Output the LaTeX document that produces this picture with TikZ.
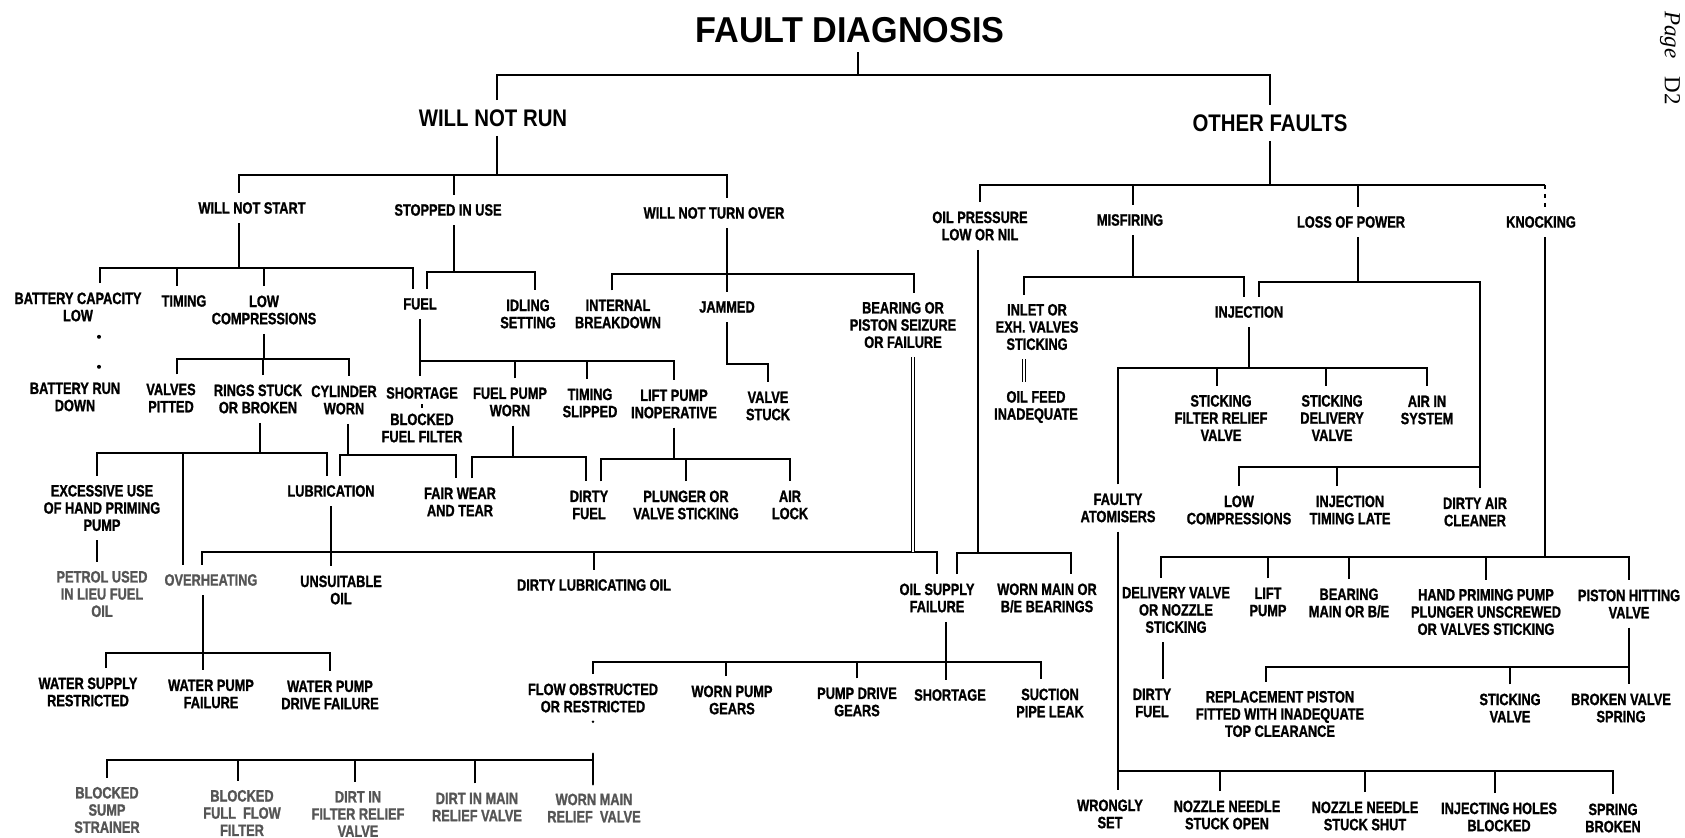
\documentclass[tikz,border=0pt]{standalone}
\usepackage{fontspec}
\setmainfont{Liberation Sans}
\newfontfamily\lblfont{Liberation Sans}[FakeStretch=0.78, FakeBold=1.2]
\newfontfamily\headfont{Liberation Sans}[FakeStretch=0.85]
\newfontfamily\titlefont{Liberation Sans}[FakeStretch=0.95]
\newfontfamily\pagefont{Liberation Serif}
\definecolor{faultgrey}{RGB}{85,85,85}
\usetikzlibrary{positioning}

\tikzset{
  cause/.style={font=\lblfont\bfseries\fontsize{8.2}{8.6}\selectfont, align=center, inner xsep=0pt, inner ysep=4pt},
  causegrey/.style={cause, text=faultgrey},
  group/.style={font=\headfont\bfseries\fontsize{12}{13}\selectfont, inner sep=4pt},
  dbl/.style={double, line width=0.6pt, double distance=1.1pt},
}

\begin{document}
\begin{tikzpicture}[x=0.5pt, y=-0.5pt, line width=1.4pt]
  \useasboundingbox (0,0) rectangle (1685,838);

  % headings
  \node[font=\titlefont\bfseries\fontsize{18}{20}\selectfont, inner sep=4pt] (title) at (850,30) {FAULT DIAGNOSIS};
  \node[rotate=-90, font=\pagefont\fontsize{11.5}{12}\selectfont, inner sep=0pt] (page) at (1670,58) {\textit{Page}\hspace{9pt}D2};
  \node[group] (wnr)    at (493,118)  {WILL NOT RUN};
  \node[group] (others) at (1270,123) {OTHER FAULTS};

  % second level
  \node[cause] (wns)      at (252,208)  {WILL NOT START};
  \node[cause] (stopped)  at (448,210)  {STOPPED IN USE};
  \node[cause] (turnover) at (714,213)  {WILL NOT TURN OVER};
  \node[cause] (oilpress) at (980,226)  {OIL PRESSURE\\LOW OR NIL};
  \node[cause] (misfire)  at (1130,220) {MISFIRING};
  \node[cause] (power)    at (1351,222) {LOSS OF POWER};
  \node[cause] (knock)    at (1541,222) {KNOCKING};

  % third level
  \node[cause] (batcap)    at (78,307)   {BATTERY CAPACITY\\LOW};
  \node[cause] (timing)    at (184,301)  {TIMING};
  \node[cause] (lowcomp)   at (264,310)  {LOW\\COMPRESSIONS};
  \node[cause] (fuel)      at (420,304)  {FUEL};
  \node[cause] (idling)    at (528,314)  {IDLING\\SETTING};
  \node[cause] (internal)  at (618,314)  {INTERNAL\\BREAKDOWN};
  \node[cause] (jammed)    at (727,307)  {JAMMED};
  \node[cause] (bearing)   at (903,325)  {BEARING OR\\PISTON SEIZURE\\OR FAILURE};
  \node[cause] (inlet)     at (1037,327) {INLET OR\\EXH. VALVES\\STICKING};
  \node[cause] (injection) at (1249,312) {INJECTION};

  % fourth level
  \node[cause] (batrun)      at (75,397)   {BATTERY RUN\\DOWN};
  \node[cause] (pitted)      at (171,398)  {VALVES\\PITTED};
  \node[cause] (rings)       at (258,399)  {RINGS STUCK\\OR BROKEN};
  \node[cause] (cylinder)    at (344,400)  {CYLINDER\\WORN};
  \node[cause, inner ysep=1pt] (shortage) at (422,393) {SHORTAGE};
  \node[cause, inner ysep=1pt] (blocked)  at (422,428) {BLOCKED\\FUEL FILTER};
  \node[cause] (pumpworn)    at (510,402)  {FUEL PUMP\\WORN};
  \node[cause] (slipped)     at (590,403)  {TIMING\\SLIPPED};
  \node[cause] (liftpump)    at (674,404)  {LIFT PUMP\\INOPERATIVE};
  \node[cause] (valvestuck)  at (768,406)  {VALVE\\STUCK};
  \node[cause] (oilfeed)     at (1036,407) {OIL FEED\\INADEQUATE};
  \node[cause] (stickfilter) at (1221,418) {STICKING\\FILTER RELIEF\\VALVE};
  \node[cause] (stickdeliv)  at (1332,418) {STICKING\\DELIVERY\\VALVE};
  \node[cause] (airin)       at (1427,410) {AIR IN\\SYSTEM};

  % fifth level
  \node[cause] (excessive)  at (102,508)  {EXCESSIVE USE\\OF HAND PRIMING\\PUMP};
  \node[cause] (lubric)     at (331,491)  {LUBRICATION};
  \node[cause] (fairwear)   at (460,502)  {FAIR WEAR\\AND TEAR};
  \node[cause] (dirtyfuel)  at (589,505)  {DIRTY\\FUEL};
  \node[cause] (plunger)    at (686,505)  {PLUNGER OR\\VALVE STICKING};
  \node[cause] (airlock)    at (790,505)  {AIR\\LOCK};
  \node[cause] (atomisers)  at (1118,508) {FAULTY\\ATOMISERS};
  \node[cause] (lowcompb)   at (1239,510) {LOW\\COMPRESSIONS};
  \node[cause] (timinglate) at (1350,510) {INJECTION\\TIMING LATE};
  \node[cause] (aircleaner) at (1475,512) {DIRTY AIR\\CLEANER};

  % sixth level
  \node[causegrey] (petrol)   at (102,594)  {PETROL USED\\IN LIEU FUEL\\OIL};
  \node[causegrey] (overheat) at (211,580)  {OVERHEATING};
  \node[cause] (unsuitable)   at (341,590)  {UNSUITABLE\\OIL};
  \node[cause] (dirtylub)     at (594,585)  {DIRTY LUBRICATING OIL};
  \node[cause] (supplyfail)   at (937,598)  {OIL SUPPLY\\FAILURE};
  \node[cause] (wornmain)     at (1047,598) {WORN MAIN OR\\B/E BEARINGS};
  \node[cause] (delivery)     at (1176,610) {DELIVERY VALVE\\OR NOZZLE\\STICKING};
  \node[cause] (liftpumpb)    at (1268,602) {LIFT\\PUMP};
  \node[cause] (bearingb)     at (1349,603) {BEARING\\MAIN OR B/E};
  \node[cause] (handprime)    at (1486,612) {HAND PRIMING PUMP\\PLUNGER UNSCREWED\\OR VALVES STICKING};
  \node[cause] (pistonhit)    at (1629,604) {PISTON HITTING\\VALVE};

  % seventh level
  \node[cause] (watersupply)  at (88,692)   {WATER SUPPLY\\RESTRICTED};
  \node[cause] (waterpump)    at (211,694)  {WATER PUMP\\FAILURE};
  \node[cause] (waterdrive)   at (330,695)  {WATER PUMP\\DRIVE FAILURE};
  \node[cause] (flowobs)      at (593,698)  {FLOW OBSTRUCTED\\OR RESTRICTED};
  \node[cause] (pumpgears)    at (732,700)  {WORN PUMP\\GEARS};
  \node[cause] (drivegears)   at (857,702)  {PUMP DRIVE\\GEARS};
  \node[cause] (shortageb)    at (950,695)  {SHORTAGE};
  \node[cause] (suction)      at (1050,703) {SUCTION\\PIPE LEAK};
  \node[cause] (dirtyfuelb)   at (1152,703) {DIRTY\\FUEL};
  \node[cause] (replacement)  at (1280,714) {REPLACEMENT PISTON\\FITTED WITH INADEQUATE\\TOP CLEARANCE};
  \node[cause] (stickvalve)   at (1510,708) {STICKING\\VALVE};
  \node[cause] (brokenspring) at (1621,708) {BROKEN VALVE\\SPRING};

  % bottom level
  \node[causegrey] (sump)       at (107,810)  {BLOCKED\\SUMP\\STRAINER};
  \node[causegrey] (fullflow)   at (242,813)  {BLOCKED\\FULL\ \ FLOW\\FILTER};
  \node[causegrey] (dirtfilter) at (358,814)  {DIRT IN\\FILTER RELIEF\\VALVE};
  \node[causegrey] (dirtmain)   at (477,807)  {DIRT IN MAIN\\RELIEF VALVE};
  \node[causegrey] (wornrelief) at (594,808)  {WORN MAIN\\RELIEF\ \ VALVE};
  \node[cause] (wrongly)      at (1110,814) {WRONGLY\\SET};
  \node[cause] (needleopen)   at (1227,815) {NOZZLE NEEDLE\\STUCK OPEN};
  \node[cause] (needleshut)   at (1365,816) {NOZZLE NEEDLE\\STUCK SHUT};
  \node[cause] (holes)        at (1499,817) {INJECTING HOLES\\BLOCKED};
  \node[cause] (springbroken) at (1613,818) {SPRING\\BROKEN};

  % top of the tree
  \draw ([xshift=4pt]title.south) -- ([xshift=4pt]title.south |- 0,75);
  \draw ([xshift=2pt]wnr.north) |- (others.north |- 0,75) -- (others.north);

  % will not run
  \draw ([xshift=2pt]wnr.south) -- ([xshift=2pt]wnr.south |- 0,175);
  \draw ([xshift=-6.5pt]wns.north) |- ([xshift=6.5pt]turnover.north |- 0,175) -- ([xshift=6.5pt]turnover.north);
  \draw ([xshift=3pt]stopped.north) -- ([xshift=3pt]stopped.north |- 0,175);

  % other faults
  \draw (others.south) -- (others.south |- 0,185);
  \draw (oilpress.north) |- ([xshift=2pt]knock.north |- 0,185);
  \draw[dash pattern=on 2pt off 2.5pt] ([xshift=2pt]knock.north |- 0,185) -- ([xshift=2pt]knock.north);
  \draw ([xshift=1.5pt]misfire.north) -- ([xshift=1.5pt]misfire.north |- 0,185);
  \draw ([xshift=3.5pt]power.north) -- ([xshift=3.5pt]power.north |- 0,185);

  % will not start
  \draw ([xshift=-6.5pt]wns.south) -- ([xshift=-6.5pt]wns.south |- 0,268);
  \draw ([xshift=11pt]batcap.north) |- ([xshift=-3.5pt]fuel.north |- 0,268) -- ([xshift=-3.5pt]fuel.north);
  \draw ([xshift=-3.5pt]timing.north) -- ([xshift=-3.5pt]timing.north |- 0,268);
  \draw (lowcomp.north) -- (lowcomp.north |- 0,268);
  \draw[line width=2pt, line cap=round, shorten <=3pt, dash pattern=on 0pt off 15pt on 0pt off 40pt]
    ([xshift=10.5pt]batcap.south) -- ([xshift=10.5pt]batcap.south |- batrun.north);

  % stopped in use
  \draw ([xshift=3pt]stopped.south) -- ([xshift=3pt]stopped.south |- 0,272);
  \draw ([xshift=3.5pt]fuel.north) |- ([xshift=3.5pt]idling.north |- 0,272) -- ([xshift=3.5pt]idling.north);

  % will not turn over
  \draw ([xshift=6.5pt]turnover.south) -- ([xshift=6.5pt]turnover.south |- 0,274);
  \draw ([xshift=-3pt]internal.north) |- ([xshift=5.5pt]bearing.north |- 0,274) -- ([xshift=5.5pt]bearing.north);
  \draw (jammed.north) -- (jammed.north |- 0,274);
  \draw (jammed.south) |- (valvestuck.north |- 0,364) -- (valvestuck.north);

  % misfiring and loss of power
  \draw ([xshift=1.5pt]misfire.south) -- ([xshift=1.5pt]misfire.south |- 0,277);
  \draw ([xshift=-6.5pt]inlet.north) |- ([xshift=-2.5pt]injection.north |- 0,277) -- ([xshift=-2.5pt]injection.north);
  \draw ([xshift=3.5pt]power.south) -- ([xshift=3.5pt]power.south |- 0,282);
  \draw ([xshift=5pt]injection.north) |- ([xshift=2.5pt]aircleaner.north |- 0,282) -- ([xshift=2.5pt]aircleaner.north);
  \draw[dbl] ([xshift=-6.5pt]inlet.south) -- ([xshift=-6.5pt]inlet.south |- oilfeed.north);

  % low compressions
  \draw (lowcomp.south) -- (lowcomp.south |- 0,359);
  \draw ([xshift=3pt]pitted.north) |- ([xshift=2.5pt]cylinder.north |- 0,359) -- ([xshift=2.5pt]cylinder.north);
  \draw ([xshift=2.5pt]rings.north) -- ([xshift=2.5pt]rings.north |- 0,359);

  % fuel
  \draw[shorten >=4pt] (fuel.south) -- (fuel.south |- shortage.north);
  \draw (fuel.south |- 0,361) -| (liftpump.north);
  \draw ([xshift=2.5pt]pumpworn.north) -- ([xshift=2.5pt]pumpworn.north |- 0,361);
  \draw ([xshift=-1.5pt]slipped.north) -- ([xshift=-1.5pt]slipped.north |- 0,361);
  \draw[line width=1.2pt, shorten <=1pt, shorten >=1pt] (shortage.south) -- (shortage.south |- blocked.north);

  % rings, cylinder, fuel pump, lift pump
  \draw ([xshift=1pt]rings.south) -- ([xshift=1pt]rings.south |- 0,453);
  \draw ([xshift=-2.5pt]excessive.north) |- ([xshift=-2pt]lubric.north |- 0,453) -- ([xshift=-2pt]lubric.north);
  \draw ([xshift=-14pt]overheat.north) -- ([xshift=-14pt]overheat.north |- 0,453);
  \draw ([xshift=2pt]cylinder.south) -- ([xshift=2pt]cylinder.south |- 0,455);
  \draw ([xshift=4.5pt]lubric.north) |- ([xshift=-2pt]fairwear.north |- 0,455) -- ([xshift=-2pt]fairwear.north);
  \draw ([xshift=1.5pt]pumpworn.south) -- ([xshift=1.5pt]pumpworn.south |- 0,457);
  \draw ([xshift=6pt]fairwear.north) |- ([xshift=-1.5pt]dirtyfuel.north |- 0,457) -- ([xshift=-1.5pt]dirtyfuel.north);
  \draw (liftpump.south) -- (liftpump.south |- 0,459);
  \draw ([xshift=6pt]dirtyfuel.north) |- (airlock.north |- 0,459) -- (airlock.north);
  \draw (plunger.north) -- (plunger.north |- 0,459);
  \draw ([xshift=-2.5pt]excessive.south) -- ([xshift=-2.5pt]excessive.south |- petrol.north);

  % lubrication
  \draw (lubric.south) -- (lubric.south |- unsuitable.north);
  \draw ([xshift=-4.5pt]overheat.north) |- (supplyfail.north |- 0,552) -- (supplyfail.north);
  \draw (dirtylub.north) -- (dirtylub.north |- 0,552);
  \draw[dbl] ([xshift=5pt]bearing.south) -- ([xshift=5pt]bearing.south |- 0,552);

  % oil pressure
  \draw ([xshift=-1pt]oilpress.south) -- ([xshift=-1pt]oilpress.south |- 0,553);
  \draw ([xshift=10pt]supplyfail.north) |- ([xshift=12pt]wornmain.north |- 0,553) -- ([xshift=12pt]wornmain.north);

  % oil supply failure
  \draw ([xshift=4.5pt]supplyfail.south) -- ([xshift=4.5pt]supplyfail.south |- shortageb.north);
  \draw (flowobs.north) |- ([xshift=-4.5pt]suction.north |- 0,662) -- ([xshift=-4.5pt]suction.north);
  \draw ([xshift=-3pt]pumpgears.north) -- ([xshift=-3pt]pumpgears.north |- 0,662);
  \draw (drivegears.north) -- (drivegears.north |- 0,662);

  % flow obstructed
  \draw[line cap=round, dash pattern=on 0pt off 16pt on 30pt] (flowobs.south) -- (flowobs.south |- wornrelief.north);
  \draw (sump.north) |- (wornrelief.north |- 0,760);
  \draw ([xshift=-2pt]fullflow.north) -- ([xshift=-2pt]fullflow.north |- 0,760);
  \draw ([xshift=-1.5pt]dirtfilter.north) -- ([xshift=-1.5pt]dirtfilter.north |- 0,760);
  \draw ([xshift=-1pt]dirtmain.north) -- ([xshift=-1pt]dirtmain.north |- 0,760);

  % overheating
  \draw ([xshift=-4pt]overheat.south) -- ([xshift=-4pt]overheat.south |- waterpump.north);
  \draw ([xshift=9pt]watersupply.north) |- (waterdrive.north |- 0,653) -- (waterdrive.north);

  % injection
  \draw (injection.south) -- (injection.south |- 0,368);
  \draw (atomisers.north) |- (airin.north |- 0,368) -- (airin.north);
  \draw ([xshift=-2pt]stickfilter.north) -- ([xshift=-2pt]stickfilter.north |- 0,368);
  \draw ([xshift=-3pt]stickdeliv.north) -- ([xshift=-3pt]stickdeliv.north |- 0,368);
  \draw (lowcompb.north) |- ([xshift=2.5pt]aircleaner.north |- 0,467);
  \draw ([xshift=-6.5pt]timinglate.north) -- ([xshift=-6.5pt]timinglate.north |- 0,467);

  % knocking
  \draw ([xshift=2pt]knock.south) -- ([xshift=2pt]knock.south |- 0,557);
  \draw ([xshift=-7.5pt]delivery.north) |- (pistonhit.north |- 0,557) -- (pistonhit.north);
  \draw (liftpumpb.north) -- (liftpumpb.north |- 0,557);
  \draw (bearingb.north) -- (bearingb.north |- 0,557);
  \draw (handprime.north) -- (handprime.north |- 0,557);
  \draw ([xshift=-6.5pt]delivery.south) -- ([xshift=-6.5pt]delivery.south |- dirtyfuelb.north);

  % piston hitting valve
  \draw (pistonhit.south) -- (pistonhit.south |- 0,667);
  \draw ([xshift=-7pt]replacement.north) |- ([xshift=4pt]brokenspring.north |- 0,667) -- ([xshift=4pt]brokenspring.north);
  \draw (stickvalve.north) -- (stickvalve.north |- 0,667);

  % faulty atomisers
  \draw (atomisers.south) -- (atomisers.south |- wrongly.north);
  \draw (atomisers.south |- 0,771) -| (springbroken.north);
  \draw ([xshift=-3.5pt]needleopen.north) -- ([xshift=-3.5pt]needleopen.north |- 0,771);
  \draw (needleshut.north) -- (needleshut.north |- 0,771);
  \draw ([xshift=-2pt]holes.north) -- ([xshift=-2pt]holes.north |- 0,771);
\end{tikzpicture}
\end{document}
